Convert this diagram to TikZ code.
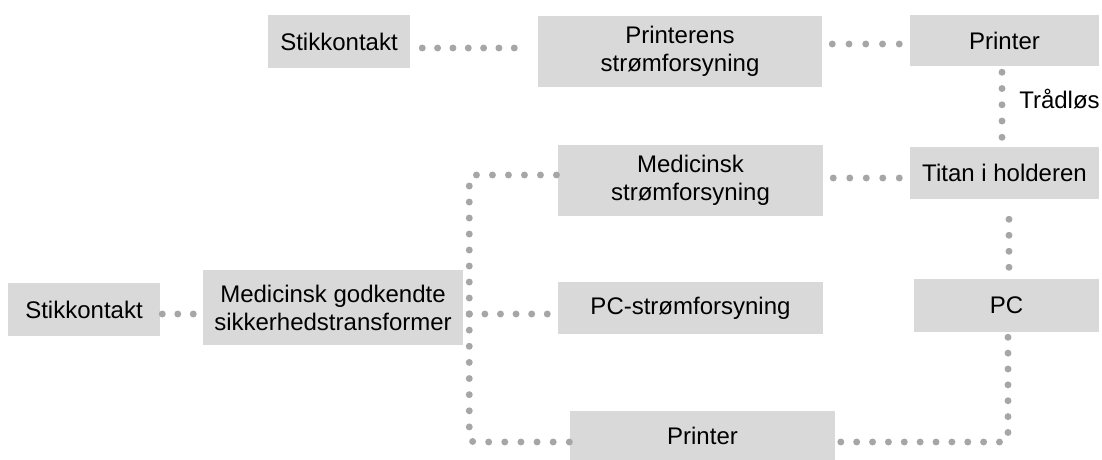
\documentclass[tikz,border=0pt]{standalone}
\usepackage{fontspec}
\setmainfont{Liberation Sans}
\usetikzlibrary{calc}
\definecolor{boxgray}{HTML}{D9D9D9}
\definecolor{dotgray}{HTML}{A6A6A6}
\begin{document}
\begin{tikzpicture}[x=0.75pt,y=-0.75pt,
 box/.style={fill=boxgray, inner sep=0pt, align=center, font=\fontsize{18pt}{21pt}\selectfont},
 lbl/.style={inner sep=0pt, font=\fontsize{18pt}{21pt}\selectfont},
 dotline/.style={draw=dotgray, line width=5.2pt, line cap=round, dash pattern=on 0pt off #1},
 dotline/.default=12pt]
\useasboundingbox (0,0) rectangle (1102,460);
% boxes
\node[box, minimum width=106.5pt, minimum height=39.75pt] (s1) at (339,41.5) {Stikkontakt};
\node[box, minimum width=213pt, minimum height=53.25pt] (ps) at (680,51.5) {Printerens\\strømforsyning};
\node[box, minimum width=141.75pt, minimum height=38.25pt] (p1) at (1004.5,40.5) {Printer};
\node[box, minimum width=198.75pt, minimum height=53.25pt] (ms) at (690.5,180.5) {Medicinsk\\strømforsyning};
\node[box, minimum width=141.75pt, minimum height=39pt] (ti) at (1004.5,173) {Titan i holderen};
\node[box, minimum width=114pt, minimum height=39.75pt] (s2) at (84,309.5) {Stikkontakt};
\node[box, minimum width=195pt, minimum height=56.25pt] (tr) at (333,307.5) {Medicinsk godkendte\\sikkerhedstransformer};
\node[box, minimum width=198.75pt, minimum height=39pt] (pcs) at (690.5,308) {PC-strømforsyning};
\node[box, minimum width=138.75pt, minimum height=39.75pt] (pc) at (1006.5,305.5) {PC};
\node[box, minimum width=198.75pt, minimum height=36.75pt] (p2) at (702.5,435.5) {Printer};
\node[lbl, anchor=west] (tl) at (1019,99.5) {Trådløs};
% connectors
\draw[dotline=11.5pt, shorten <=9pt, shorten >=13pt] ([yshift=-4.875pt]s1.east) -- ([yshift=-4.875pt]s1.east -| ps.west);
\draw[dotline=12.56pt, shorten <=7.5pt, shorten >=3.25pt] ([yshift=-2.625pt]p1.west -| ps.east) -- ([yshift=-2.625pt]p1.west);
\draw[dotline=12.19pt, shorten <=4.5pt, shorten >=2.5pt] ([xshift=-1.875pt]p1.south) -- ([xshift=-1.875pt]p1.south |- ti.north);
\draw[dotline=12.375pt, shorten <=7.5pt, shorten >=3.25pt] ([yshift=1.875pt]ms.east) -- ([yshift=1.875pt]ms.east -| ti.west);
\draw[dotline=12pt, shorten <=15pt, shorten >=4pt] ([xshift=3.375pt]ti.south) -- ([xshift=3.375pt]ti.south |- pc.north);
\draw[dotline=11.9pt, rounded corners=3.5pt, shorten <=3.75pt] ([xshift=1.125pt]pc.south) |- ([yshift=-4.875pt]p2.east);
\draw[dotline=11.625pt, shorten <=1.5pt, shorten >=2.5pt] ([yshift=-3.375pt]s2.east) -- ([yshift=-3.375pt]s2.east -| tr.west);
\coordinate (j) at ([xshift=4.5pt,yshift=-4.875pt]tr.east);
\draw[dotline=12pt, rounded corners=3.5pt, shorten >=0.75pt] (j) |- ([yshift=4.125pt]ms.west);
\draw[dotline=11.7pt, shorten >=3.25pt] (j) -- (j -| pcs.west);
\draw[dotline=12.1pt, rounded corners=3.5pt] (j) |- ([yshift=-4.875pt]p2.west);
\end{tikzpicture}
\end{document}
